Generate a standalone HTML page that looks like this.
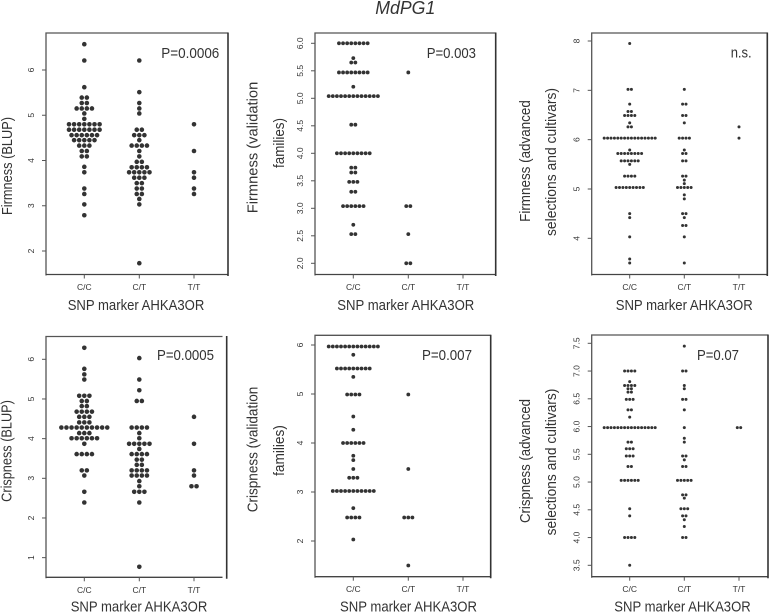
<!DOCTYPE html>
<html>
<head>
<meta charset="utf-8">
<title>MdPG1 dot plots</title>
<style>
html,body{margin:0;padding:0;background:#fff;width:770px;height:613px;overflow:hidden}
svg{display:block;filter:blur(0.35px)}
text{font-family:"Liberation Sans",sans-serif}
.ttl{font-size:15px;fill:#333}
.tick{font-size:8.5px;fill:#333}
</style>
</head>
<body>
<svg id="chart" width="770" height="613" viewBox="0 0 770 613" xmlns="http://www.w3.org/2000/svg">
<text x="375.3" y="14" textLength="60" lengthAdjust="spacingAndGlyphs" font-size="18" font-style="italic" fill="#333">MdPG1</text>
</svg>
<script>
// Shared categories
const categories = ["C/C", "C/T", "T/T"];

// Tick labels
const ticksFirmBlup = ["2", "3", "4", "5", "6"];
const ticksFirmVal = ["2.0", "2.5", "3.0", "3.5", "4.0", "4.5", "5.0", "5.5", "6.0"];
const ticksFirmAdv = ["4", "5", "6", "7", "8"];
const ticksCrispBlup = ["1", "2", "3", "4", "5", "6"];
const ticksCrispVal = ["2", "3", "4", "5", "6"];
const ticksCrispAdv = ["3.5", "4.0", "4.5", "5.0", "5.5", "6.0", "6.5", "7.0", "7.5"];

// Series: each row is [trait value, number of individuals]
const firmBlupCC = [[6.57,1],[6.21,1],[5.62,1],[5.39,2],[5.27,2],[5.15,4],[5.04,1],[4.92,1],[4.80,7],[4.68,7],[4.56,6],[4.45,5],[4.33,3],[4.21,2],[4.09,2],[3.86,1],[3.74,1],[3.38,1],[3.26,1],[3.03,1],[2.79,1]];
const firmBlupCT = [[6.21,1],[5.51,1],[5.27,1],[5.15,1],[5.04,1],[4.68,2],[4.56,3],[4.45,1],[4.33,4],[4.21,1],[4.09,1],[3.97,2],[3.85,4],[3.74,5],[3.62,3],[3.50,2],[3.38,2],[3.26,2],[3.15,1],[3.03,1],[1.73,1]];
const firmBlupTT = [[4.80,1],[4.21,1],[3.74,1],[3.62,1],[3.38,1],[3.26,1]];

const firmValCC = [[6.0,8],[5.73,1],[5.65,2],[5.47,8],[5.21,1],[5.04,13],[4.52,2],[4.0,9],[3.74,2],[3.65,2],[3.48,3],[3.30,2],[3.04,6],[2.70,1],[2.53,2]];
const firmValCT = [[5.47,1],[3.04,2],[2.53,1],[2.0,2]];
const firmValTT = [];

const firmAdvCC = [[7.95,1],[7.02,2],[6.72,1],[6.57,2],[6.49,4],[6.34,1],[6.26,2],[6.03,16],[5.79,1],[5.72,8],[5.57,6],[5.50,1],[5.26,4],[5.03,9],[4.50,1],[4.42,1],[4.03,1],[3.58,1],[3.50,1]];
const firmAdvCT = [[7.02,1],[6.72,2],[6.49,2],[6.34,1],[6.03,4],[5.79,1],[5.72,2],[5.57,2],[5.26,2],[5.18,1],[5.11,1],[5.03,5],[4.88,1],[4.80,1],[4.50,2],[4.42,1],[4.26,2],[4.03,1],[3.50,1]];
const firmAdvTT = [[6.26,1],[6.03,1]];

const crispBlupCC = [[6.29,1],[5.76,1],[5.62,1],[5.49,1],[5.08,3],[4.95,2],[4.82,2],[4.68,4],[4.55,3],[4.41,3],[4.28,10],[4.14,3],[4.01,6],[3.87,1],[3.61,4],[3.20,2],[3.07,1],[2.66,1],[2.39,1]];
const crispBlupCT = [[6.03,1],[5.49,1],[5.22,1],[4.95,2],[4.28,4],[4.14,1],[4.01,1],[3.87,5],[3.74,1],[3.61,4],[3.47,2],[3.34,2],[3.20,4],[3.07,4],[2.93,1],[2.80,1],[2.66,3],[2.39,1],[0.77,1]];
const crispBlupTT = [[4.55,1],[3.87,1],[3.20,1],[3.07,1],[2.80,2]];

const crispValCC = [[5.97,13],[5.80,1],[5.52,9],[5.35,1],[4.99,4],[4.54,1],[4.27,1],[4.0,6],[3.74,1],[3.65,1],[3.47,1],[3.29,3],[3.02,11],[2.67,1],[2.48,4],[2.03,1]];
const crispValCT = [[4.99,1],[3.47,1],[2.48,3],[1.50,1]];
const crispValTT = [];

const crispAdvCC = [[7.0,4],[6.81,1],[6.74,4],[6.68,2],[6.62,2],[6.49,3],[6.30,2],[6.17,1],[5.98,16],[5.72,2],[5.60,3],[5.47,3],[5.28,2],[5.03,6],[4.52,1],[4.39,1],[4.0,4],[3.5,1]];
const crispAdvCT = [[7.45,1],[7.0,2],[6.74,1],[6.68,1],[6.49,2],[6.30,1],[5.98,1],[5.79,1],[5.72,1],[5.47,2],[5.40,1],[5.28,2],[5.03,5],[4.77,2],[4.71,1],[4.52,3],[4.39,2],[4.32,1],[4.20,1],[4.0,2]];
const crispAdvTT = [[5.98,2]];

// Panel layout
const panels = [
 {id:"firmness-blup",left:46,right:228,lineEnd:228,top:33,bottom:274.5,refV:6,refY:70,k:45.25,cats:[84.3,139.3,194],r:2.3,step:5.1,
  ticks:ticksFirmBlup,series:[firmBlupCC,firmBlupCT,firmBlupTT],note:"P=0.0006",nx:161.3,ny:58,nw:58,
  xTitle:[67.7,310,136.6],yTitles:[["Firmness (BLUP)",12,166,98]]},
 {id:"firmness-validation",left:315,right:495.7,lineEnd:495.7,top:33,bottom:274.5,refV:6,refY:43.3,k:55,cats:[353.3,408.3,463],r:1.9,step:4.1,
  ticks:ticksFirmVal,series:[firmValCC,firmValCT,firmValTT],note:"P=0.003",nx:426.7,ny:58,nw:49.3,
  xTitle:[337.3,310,137],yTitles:[["Firmness (validation",257.5,147.5,131.5],["families)",284,143,50]]},
 {id:"firmness-advanced",left:591.7,right:767.3,lineEnd:767.3,top:33,bottom:274.5,refV:8,refY:41,k:49.33,cats:[629.7,684.3,739],r:1.5,step:3.4,
  ticks:ticksFirmAdv,series:[firmAdvCC,firmAdvCT,firmAdvTT],note:"n.s.",nx:730.7,ny:57.5,nw:21,
  xTitle:[615.7,310,137],yTitles:[["Firmness (advanced",530,161,121.7],["selections and cultivars)",556,162,148]]},
 {id:"crispness-blup",left:46,right:226.7,lineEnd:222.5,top:336.5,bottom:577.3,refV:6,refY:359.3,k:39.67,cats:[84.3,139.3,194],r:2.3,step:5.1,
  ticks:ticksCrispBlup,series:[crispBlupCC,crispBlupCT,crispBlupTT],note:"P=0.0005",nx:157,ny:360,nw:57,
  xTitle:[70.7,611.5,136.6],yTitles:[["Crispness (BLUP)",11.5,451,101.7]]},
 {id:"crispness-validation",left:315,right:490.7,lineEnd:490.7,top:335.3,bottom:576.7,refV:6,refY:345,k:49,cats:[353.3,408.3,463],r:1.9,step:4.1,
  ticks:ticksCrispVal,series:[crispValCC,crispValCT,crispValTT],note:"P=0.007",nx:422,ny:360,nw:50,
  xTitle:[340,611.5,137],yTitles:[["Crispness (validation",257.5,449.5,125.5],["families)",284,450.5,50.7]]},
 {id:"crispness-advanced",left:591.7,right:768,lineEnd:768,top:335,bottom:576.7,refV:7.5,refY:343.3,k:55.5,cats:[629.7,684.3,739],r:1.5,step:3.4,
  ticks:ticksCrispAdv,series:[crispAdvCC,crispAdvCT,crispAdvTT],note:"P=0.07",nx:697,ny:360,nw:42,
  xTitle:[614.3,611.5,136.4],yTitles:[["Crispness (advanced",530,461,124],["selections and cultivars)",556,462,146.7]]}
];

const svg = document.getElementById("chart");
const NS = "http://www.w3.org/2000/svg";

function make(tag, attrs, parent, txt) {
  const el = document.createElementNS(NS, tag);
  for (const k in attrs) el.setAttribute(k, attrs[k]);
  if (txt !== undefined) el.textContent = txt;
  parent.appendChild(el);
  return el;
}
function yScale(p, v) { return p.refY + (p.refV - v) * p.k; }
function xScale(p, catIndex, i, n) { return p.cats[catIndex] + (i - (n - 1) / 2) * p.step; }

panels.forEach(function (p) {
  const g = make("g", {}, svg);
  
  

  // frame
  const frame = make("path", {d:"M"+p.left+" "+(p.bottom+1)+"V"+p.top+"H"+p.lineEnd, fill:"none", stroke:"#555", "stroke-width":1.3}, g);
  
  
  const base = make("line", {x1:p.left, x2:p.lineEnd, y1:p.bottom, y2:p.bottom, stroke:"#444", "stroke-width":1.3}, g);
  
  
  const rightEdge = make("line", {x1:p.right, x2:p.right, y1:p.top-0.5, y2:p.bottom+1.5, stroke:"#333", "stroke-width":1.6}, g);
  
  

  // y ticks
  p.ticks.forEach(function (label) {
    const y = yScale(p, parseFloat(label));
    const t = make("line", {x1:p.left-4, x2:p.left, y1:y, y2:y, stroke:"#555", "stroke-width":1}, g);
    
    
    const lx = p.left - 12;
    const lab = make("text", {x:lx, y:y, "text-anchor":"middle", class:"tick", transform:"rotate(-90 "+lx+" "+y+")"}, g, label);
    
    
  });

  // x ticks and category labels
  categories.forEach(function (c, ci) {
    const cx = p.cats[ci];
    const t = make("line", {x1:cx, x2:cx, y1:p.bottom, y2:p.bottom+4, stroke:"#555", "stroke-width":1}, g);
    
    
    const lab = make("text", {x:cx, y:p.bottom+15.5, "text-anchor":"middle", class:"tick"}, g, c);
    
    
  });

  // dots
  p.series.forEach(function (rows, ci) {
    rows.forEach(function (row) {
      for (let i = 0; i < row[1]; i++) {
        const d = make("circle", {cx:xScale(p, ci, i, row[1]), cy:yScale(p, row[0]), r:p.r, fill:"#333"}, g);
        
        
      }
    });
  });

  // significance note
  const note = make("text", {x:p.nx, y:p.ny, "font-size":15, fill:"#333", textLength:p.nw, lengthAdjust:"spacingAndGlyphs"}, g, p.note);
  
  

  // x title
  const xt = make("text", {x:p.xTitle[0], y:p.xTitle[1], class:"ttl", textLength:p.xTitle[2], lengthAdjust:"spacingAndGlyphs"}, g, "SNP marker AHKA3OR");
  
  

  // y titles
  p.yTitles.forEach(function (yt) {
    const el = make("text", {x:yt[1], y:yt[2], class:"ttl", "text-anchor":"middle", textLength:yt[3], lengthAdjust:"spacingAndGlyphs", transform:"rotate(-90 "+yt[1]+" "+yt[2]+")"}, g, yt[0]);
    
    
  });
});
</script>
</body>
</html>
